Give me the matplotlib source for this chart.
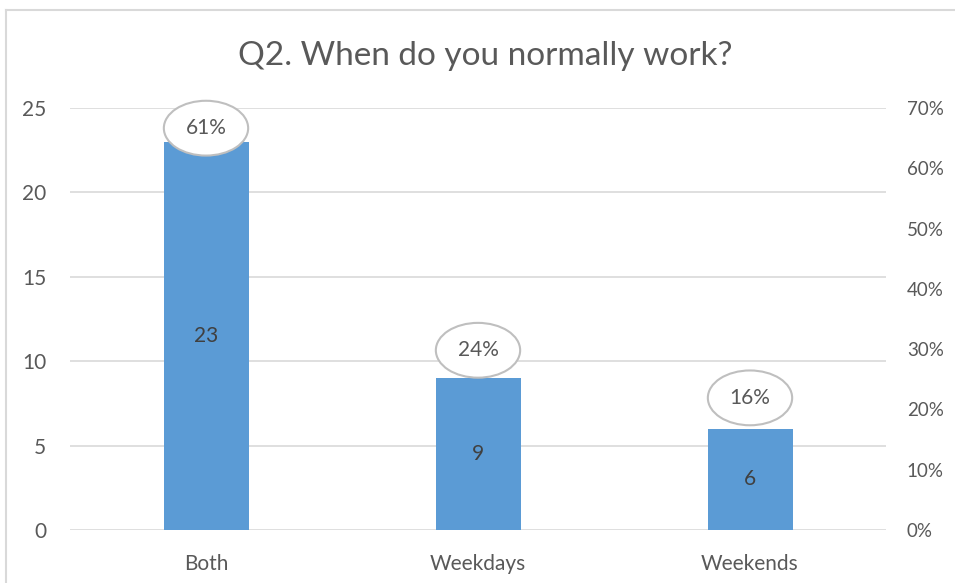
import matplotlib
matplotlib.use('Agg')
import matplotlib.pyplot as plt
from matplotlib.lines import Line2D

# Chart data
categories = ['Both', 'Weekdays', 'Weekends']
counts = [23, 9, 6]
total = sum(counts)
shares = [c / total for c in counts]

left_ticks = [0, 5, 10, 15, 20, 25]
right_ticks = [0, 0.1, 0.2, 0.3, 0.4, 0.5, 0.6, 0.7]

plt.rcParams['font.family'] = ['Lato', 'DejaVu Sans']
text_col = '#595959'
bar_col = '#5B9BD5'
grid_col = '#D9D9D9'
fs = 15

fig = plt.figure(figsize=(9.55, 5.83), dpi=100)
ax = fig.add_axes([70 / 955, 53 / 583, 816 / 955, 422 / 583])

x = list(range(len(categories)))
bars = ax.bar(x, counts, width=0.3125, color=bar_col, zorder=3)
ax.set_xlim(-0.5, 2.5)
ax.set_ylim(0, 25)
ax.set_yticks(left_ticks)
ax.set_xticks(x)
ax.set_xticklabels(categories)
ax.grid(axis='y', color=grid_col, linewidth=1.2, zorder=0)
for s in ax.spines.values():
    s.set_visible(False)
ax.tick_params(axis='both', length=0, labelsize=fs, colors=text_col)
ax.tick_params(axis='y', pad=17)
ax.tick_params(axis='x', pad=17)

# counts inside bars
for xi, c in zip(x, counts):
    ax.text(xi, c / 2, str(c), ha='center', va='center', fontsize=fs, color='#404040', zorder=4)

# secondary axis for percentages
ax2 = ax.twinx()
ax2.set_ylim(0, 0.7)
ax2.set_yticks(right_ticks)
ax2.set_yticklabels([f'{int(round(t * 100))}%' for t in right_ticks])
for s in ax2.spines.values():
    s.set_visible(False)
ax2.tick_params(axis='y', length=0, labelsize=13.5, colors=text_col, pad=15)

for xi, p in zip(x, shares):
    ax2.annotate(f'{p:.0%}', xy=(xi, p), xytext=(0, 26.6), textcoords='offset points',
                 ha='center', va='center', fontsize=fs, color=text_col, zorder=5,
                 bbox=dict(boxstyle='ellipse,pad=0.45', fc='white', ec='#BFBFBF', lw=1.5))

fig.text(485 / 955, 1 - 56 / 583, 'Q2. When do you normally work?', ha='center', va='center',
         fontsize=24, color=text_col)

# chart border (left and top edges visible)
fig.add_artist(Line2D([6 / 955, 6 / 955], [0, 1 - 10 / 583], transform=fig.transFigure,
                      color=grid_col, lw=1.5))
fig.add_artist(Line2D([6 / 955, 1], [1 - 10 / 583, 1 - 10 / 583], transform=fig.transFigure,
                      color=grid_col, lw=1.5))

fig.savefig('out.png', dpi=100, facecolor='white')
